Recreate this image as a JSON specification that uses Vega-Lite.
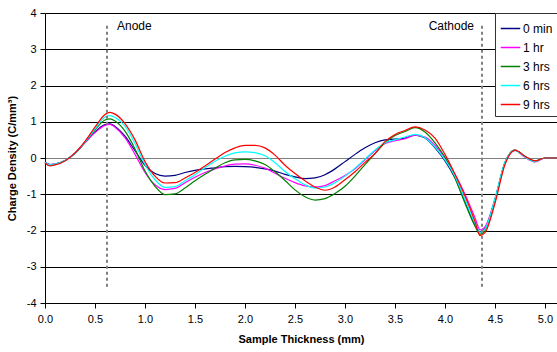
{
  "$schema": "https://vega.github.io/schema/vega-lite/v6.json",
  "width": 512,
  "height": 290,
  "autosize": {"type": "none"},
  "padding": {"left": 45, "top": 13, "right": 0, "bottom": 49},
  "background": "white",
  "config": {
    "view": {"stroke": null},
    "font": "Liberation Sans",
    "axis": {"labelFont": "Liberation Sans", "titleFont": "Liberation Sans", "labelFontSize": 11, "titleFontSize": 11, "titleFontWeight": "bold", "labelColor": "black", "titleColor": "black", "domainColor": "black", "tickColor": "black", "tickSize": 5}
  },
  "datasets": {
    "curves": [
      {"x":0,"s":"0 min","y":-0.12},{"x":0,"s":"1 hr","y":-0.12},{"x":0,"s":"3 hrs","y":-0.13},{"x":0,"s":"6 hrs","y":-0.12},{"x":0,"s":"9 hrs","y":-0.14},
      {"x":0.05,"s":"0 min","y":-0.18},{"x":0.05,"s":"1 hr","y":-0.18},{"x":0.05,"s":"3 hrs","y":-0.2},{"x":0.05,"s":"6 hrs","y":-0.19},{"x":0.05,"s":"9 hrs","y":-0.22},
      {"x":0.1,"s":"0 min","y":-0.17},{"x":0.1,"s":"1 hr","y":-0.17},{"x":0.1,"s":"3 hrs","y":-0.18},{"x":0.1,"s":"6 hrs","y":-0.17},{"x":0.1,"s":"9 hrs","y":-0.19},
      {"x":0.2,"s":"0 min","y":-0.07},{"x":0.2,"s":"1 hr","y":-0.07},{"x":0.2,"s":"3 hrs","y":-0.07},{"x":0.2,"s":"6 hrs","y":-0.07},{"x":0.2,"s":"9 hrs","y":-0.08},
      {"x":0.3,"s":"0 min","y":0.13},{"x":0.3,"s":"1 hr","y":0.13},{"x":0.3,"s":"3 hrs","y":0.13},{"x":0.3,"s":"6 hrs","y":0.13},{"x":0.3,"s":"9 hrs","y":0.14},
      {"x":0.4,"s":"0 min","y":0.43},{"x":0.4,"s":"1 hr","y":0.42},{"x":0.4,"s":"3 hrs","y":0.44},{"x":0.4,"s":"6 hrs","y":0.44},{"x":0.4,"s":"9 hrs","y":0.46},
      {"x":0.5,"s":"0 min","y":0.72},{"x":0.5,"s":"1 hr","y":0.7},{"x":0.5,"s":"3 hrs","y":0.78},{"x":0.5,"s":"6 hrs","y":0.8},{"x":0.5,"s":"9 hrs","y":0.85},
      {"x":0.6,"s":"0 min","y":0.92},{"x":0.6,"s":"1 hr","y":0.9},{"x":0.6,"s":"3 hrs","y":1.05},{"x":0.6,"s":"6 hrs","y":1.13},{"x":0.6,"s":"9 hrs","y":1.2},
      {"x":0.65,"s":"0 min","y":0.94},{"x":0.65,"s":"1 hr","y":0.93},{"x":0.65,"s":"3 hrs","y":1.08},{"x":0.65,"s":"6 hrs","y":1.17},{"x":0.65,"s":"9 hrs","y":1.26},
      {"x":0.7,"s":"0 min","y":0.87},{"x":0.7,"s":"1 hr","y":0.85},{"x":0.7,"s":"3 hrs","y":1.02},{"x":0.7,"s":"6 hrs","y":1.12},{"x":0.7,"s":"9 hrs","y":1.21},
      {"x":0.8,"s":"0 min","y":0.6},{"x":0.8,"s":"1 hr","y":0.56},{"x":0.8,"s":"3 hrs","y":0.74},{"x":0.8,"s":"6 hrs","y":0.88},{"x":0.8,"s":"9 hrs","y":0.95},
      {"x":0.9,"s":"0 min","y":0.2},{"x":0.9,"s":"1 hr","y":0.1},{"x":0.9,"s":"3 hrs","y":0.25},{"x":0.9,"s":"6 hrs","y":0.4},{"x":0.9,"s":"9 hrs","y":0.5},
      {"x":1.0,"s":"0 min","y":-0.2},{"x":1.0,"s":"1 hr","y":-0.4},{"x":1.0,"s":"3 hrs","y":-0.36},{"x":1.0,"s":"6 hrs","y":-0.18},{"x":1.0,"s":"9 hrs","y":-0.1},
      {"x":1.1,"s":"0 min","y":-0.43},{"x":1.1,"s":"1 hr","y":-0.74},{"x":1.1,"s":"3 hrs","y":-0.78},{"x":1.1,"s":"6 hrs","y":-0.6},{"x":1.1,"s":"9 hrs","y":-0.5},
      {"x":1.2,"s":"0 min","y":-0.5},{"x":1.2,"s":"1 hr","y":-0.87},{"x":1.2,"s":"3 hrs","y":-1.01},{"x":1.2,"s":"6 hrs","y":-0.81},{"x":1.2,"s":"9 hrs","y":-0.69},
      {"x":1.3,"s":"0 min","y":-0.48},{"x":1.3,"s":"1 hr","y":-0.84},{"x":1.3,"s":"3 hrs","y":-0.99},{"x":1.3,"s":"6 hrs","y":-0.79},{"x":1.3,"s":"9 hrs","y":-0.68},
      {"x":1.4,"s":"0 min","y":-0.4},{"x":1.4,"s":"1 hr","y":-0.68},{"x":1.4,"s":"3 hrs","y":-0.83},{"x":1.4,"s":"6 hrs","y":-0.63},{"x":1.4,"s":"9 hrs","y":-0.55},
      {"x":1.5,"s":"0 min","y":-0.34},{"x":1.5,"s":"1 hr","y":-0.53},{"x":1.5,"s":"3 hrs","y":-0.63},{"x":1.5,"s":"6 hrs","y":-0.46},{"x":1.5,"s":"9 hrs","y":-0.4},
      {"x":1.6,"s":"0 min","y":-0.3},{"x":1.6,"s":"1 hr","y":-0.4},{"x":1.6,"s":"3 hrs","y":-0.45},{"x":1.6,"s":"6 hrs","y":-0.27},{"x":1.6,"s":"9 hrs","y":-0.22},
      {"x":1.7,"s":"0 min","y":-0.27},{"x":1.7,"s":"1 hr","y":-0.3},{"x":1.7,"s":"3 hrs","y":-0.28},{"x":1.7,"s":"6 hrs","y":-0.09},{"x":1.7,"s":"9 hrs","y":-0.03},
      {"x":1.8,"s":"0 min","y":-0.24},{"x":1.8,"s":"1 hr","y":-0.22},{"x":1.8,"s":"3 hrs","y":-0.13},{"x":1.8,"s":"6 hrs","y":0.05},{"x":1.8,"s":"9 hrs","y":0.15},
      {"x":1.9,"s":"0 min","y":-0.23},{"x":1.9,"s":"1 hr","y":-0.17},{"x":1.9,"s":"3 hrs","y":-0.05},{"x":1.9,"s":"6 hrs","y":0.14},{"x":1.9,"s":"9 hrs","y":0.28},
      {"x":2.0,"s":"0 min","y":-0.24},{"x":2.0,"s":"1 hr","y":-0.16},{"x":2.0,"s":"3 hrs","y":-0.04},{"x":2.0,"s":"6 hrs","y":0.17},{"x":2.0,"s":"9 hrs","y":0.35},
      {"x":2.1,"s":"0 min","y":-0.26},{"x":2.1,"s":"1 hr","y":-0.2},{"x":2.1,"s":"3 hrs","y":-0.08},{"x":2.1,"s":"6 hrs","y":0.15},{"x":2.1,"s":"9 hrs","y":0.35},
      {"x":2.2,"s":"0 min","y":-0.3},{"x":2.2,"s":"1 hr","y":-0.28},{"x":2.2,"s":"3 hrs","y":-0.18},{"x":2.2,"s":"6 hrs","y":0.06},{"x":2.2,"s":"9 hrs","y":0.28},
      {"x":2.3,"s":"0 min","y":-0.36},{"x":2.3,"s":"1 hr","y":-0.42},{"x":2.3,"s":"3 hrs","y":-0.38},{"x":2.3,"s":"6 hrs","y":-0.13},{"x":2.3,"s":"9 hrs","y":0.08},
      {"x":2.4,"s":"0 min","y":-0.45},{"x":2.4,"s":"1 hr","y":-0.56},{"x":2.4,"s":"3 hrs","y":-0.62},{"x":2.4,"s":"6 hrs","y":-0.37},{"x":2.4,"s":"9 hrs","y":-0.2},
      {"x":2.5,"s":"0 min","y":-0.52},{"x":2.5,"s":"1 hr","y":-0.68},{"x":2.5,"s":"3 hrs","y":-0.88},{"x":2.5,"s":"6 hrs","y":-0.57},{"x":2.5,"s":"9 hrs","y":-0.43},
      {"x":2.6,"s":"0 min","y":-0.57},{"x":2.6,"s":"1 hr","y":-0.77},{"x":2.6,"s":"3 hrs","y":-1.07},{"x":2.6,"s":"6 hrs","y":-0.74},{"x":2.6,"s":"9 hrs","y":-0.63},
      {"x":2.7,"s":"0 min","y":-0.55},{"x":2.7,"s":"1 hr","y":-0.8},{"x":2.7,"s":"3 hrs","y":-1.16},{"x":2.7,"s":"6 hrs","y":-0.83},{"x":2.7,"s":"9 hrs","y":-0.8},
      {"x":2.8,"s":"0 min","y":-0.46},{"x":2.8,"s":"1 hr","y":-0.76},{"x":2.8,"s":"3 hrs","y":-1.12},{"x":2.8,"s":"6 hrs","y":-0.8},{"x":2.8,"s":"9 hrs","y":-0.89},
      {"x":2.9,"s":"0 min","y":-0.3},{"x":2.9,"s":"1 hr","y":-0.63},{"x":2.9,"s":"3 hrs","y":-0.98},{"x":2.9,"s":"6 hrs","y":-0.68},{"x":2.9,"s":"9 hrs","y":-0.8},
      {"x":3.0,"s":"0 min","y":-0.1},{"x":3.0,"s":"1 hr","y":-0.48},{"x":3.0,"s":"3 hrs","y":-0.78},{"x":3.0,"s":"6 hrs","y":-0.5},{"x":3.0,"s":"9 hrs","y":-0.6},
      {"x":3.1,"s":"0 min","y":0.1},{"x":3.1,"s":"1 hr","y":-0.3},{"x":3.1,"s":"3 hrs","y":-0.5},{"x":3.1,"s":"6 hrs","y":-0.28},{"x":3.1,"s":"9 hrs","y":-0.38},
      {"x":3.2,"s":"0 min","y":0.28},{"x":3.2,"s":"1 hr","y":-0.05},{"x":3.2,"s":"3 hrs","y":-0.18},{"x":3.2,"s":"6 hrs","y":-0.03},{"x":3.2,"s":"9 hrs","y":-0.12},
      {"x":3.3,"s":"0 min","y":0.42},{"x":3.3,"s":"1 hr","y":0.2},{"x":3.3,"s":"3 hrs","y":0.12},{"x":3.3,"s":"6 hrs","y":0.22},{"x":3.3,"s":"9 hrs","y":0.12},
      {"x":3.4,"s":"0 min","y":0.5},{"x":3.4,"s":"1 hr","y":0.4},{"x":3.4,"s":"3 hrs","y":0.42},{"x":3.4,"s":"6 hrs","y":0.42},{"x":3.4,"s":"9 hrs","y":0.45},
      {"x":3.5,"s":"0 min","y":0.52},{"x":3.5,"s":"1 hr","y":0.48},{"x":3.5,"s":"3 hrs","y":0.62},{"x":3.5,"s":"6 hrs","y":0.5},{"x":3.5,"s":"9 hrs","y":0.65},
      {"x":3.6,"s":"0 min","y":0.55},{"x":3.6,"s":"1 hr","y":0.53},{"x":3.6,"s":"3 hrs","y":0.73},{"x":3.6,"s":"6 hrs","y":0.58},{"x":3.6,"s":"9 hrs","y":0.76},
      {"x":3.7,"s":"0 min","y":0.63},{"x":3.7,"s":"1 hr","y":0.63},{"x":3.7,"s":"3 hrs","y":0.84},{"x":3.7,"s":"6 hrs","y":0.65},{"x":3.7,"s":"9 hrs","y":0.86},
      {"x":3.8,"s":"0 min","y":0.55},{"x":3.8,"s":"1 hr","y":0.58},{"x":3.8,"s":"3 hrs","y":0.72},{"x":3.8,"s":"6 hrs","y":0.56},{"x":3.8,"s":"9 hrs","y":0.77},
      {"x":3.9,"s":"0 min","y":0.28},{"x":3.9,"s":"1 hr","y":0.35},{"x":3.9,"s":"3 hrs","y":0.42},{"x":3.9,"s":"6 hrs","y":0.3},{"x":3.9,"s":"9 hrs","y":0.55},
      {"x":4.0,"s":"0 min","y":-0.08},{"x":4.0,"s":"1 hr","y":0.0},{"x":4.0,"s":"3 hrs","y":0.02},{"x":4.0,"s":"6 hrs","y":-0.05},{"x":4.0,"s":"9 hrs","y":0.1},
      {"x":4.1,"s":"0 min","y":-0.55},{"x":4.1,"s":"1 hr","y":-0.45},{"x":4.1,"s":"3 hrs","y":-0.55},{"x":4.1,"s":"6 hrs","y":-0.5},{"x":4.1,"s":"9 hrs","y":-0.45},
      {"x":4.2,"s":"0 min","y":-1.2},{"x":4.2,"s":"1 hr","y":-1.0},{"x":4.2,"s":"3 hrs","y":-1.25},{"x":4.2,"s":"6 hrs","y":-1.15},{"x":4.2,"s":"9 hrs","y":-1.05},
      {"x":4.3,"s":"0 min","y":-1.85},{"x":4.3,"s":"1 hr","y":-1.65},{"x":4.3,"s":"3 hrs","y":-1.88},{"x":4.3,"s":"6 hrs","y":-1.8},{"x":4.3,"s":"9 hrs","y":-1.75},
      {"x":4.35,"s":"0 min","y":-2.04},{"x":4.35,"s":"1 hr","y":-1.98},{"x":4.35,"s":"3 hrs","y":-2.1},{"x":4.35,"s":"6 hrs","y":-2.05},{"x":4.35,"s":"9 hrs","y":-2.14},
      {"x":4.4,"s":"0 min","y":-1.95},{"x":4.4,"s":"1 hr","y":-1.9},{"x":4.4,"s":"3 hrs","y":-2.0},{"x":4.4,"s":"6 hrs","y":-1.96},{"x":4.4,"s":"9 hrs","y":-2.06},
      {"x":4.5,"s":"0 min","y":-1.15},{"x":4.5,"s":"1 hr","y":-1.12},{"x":4.5,"s":"3 hrs","y":-1.15},{"x":4.5,"s":"6 hrs","y":-1.12},{"x":4.5,"s":"9 hrs","y":-1.25},
      {"x":4.6,"s":"0 min","y":-0.13},{"x":4.6,"s":"1 hr","y":-0.13},{"x":4.6,"s":"3 hrs","y":-0.12},{"x":4.6,"s":"6 hrs","y":-0.12},{"x":4.6,"s":"9 hrs","y":-0.18},
      {"x":4.7,"s":"0 min","y":0.21},{"x":4.7,"s":"1 hr","y":0.21},{"x":4.7,"s":"3 hrs","y":0.22},{"x":4.7,"s":"6 hrs","y":0.21},{"x":4.7,"s":"9 hrs","y":0.22},
      {"x":4.8,"s":"0 min","y":0.04},{"x":4.8,"s":"1 hr","y":0.02},{"x":4.8,"s":"3 hrs","y":0.04},{"x":4.8,"s":"6 hrs","y":0.03},{"x":4.8,"s":"9 hrs","y":0.05},
      {"x":4.9,"s":"0 min","y":-0.09},{"x":4.9,"s":"1 hr","y":-0.11},{"x":4.9,"s":"3 hrs","y":-0.08},{"x":4.9,"s":"6 hrs","y":-0.1},{"x":4.9,"s":"9 hrs","y":-0.08},
      {"x":5.0,"s":"0 min","y":0.0},{"x":5.0,"s":"1 hr","y":0.0},{"x":5.0,"s":"3 hrs","y":0.0},{"x":5.0,"s":"6 hrs","y":0.0},{"x":5.0,"s":"9 hrs","y":0.0},
      {"x":5.12,"s":"0 min","y":0.0},{"x":5.12,"s":"1 hr","y":0.0},{"x":5.12,"s":"3 hrs","y":0.0},{"x":5.12,"s":"6 hrs","y":0.0},{"x":5.12,"s":"9 hrs","y":0.0}
    ],
    "marks": [
      {"x": 0.62, "y": 3.65, "y2": -3.6},
      {"x": 4.37, "y": 3.65, "y2": -3.6}
    ],
    "leftlabels": [{"x": 0.72, "y": 3.65, "label": "Anode"}],
    "rightlabels": [{"x": 4.29, "y": 3.65, "label": "Cathode"}]
  },
  "encoding": {
    "x": {"field": "x", "type": "quantitative", "scale": {"domain": [0, 5.12], "nice": false, "zero": false},
          "axis": {"title": "Sample Thickness (mm)", "values": [0, 0.5, 1, 1.5, 2, 2.5, 3, 3.5, 4, 4.5, 5], "format": ".1f", "grid": false, "labelPadding": 5, "titlePadding": 9, "labelFlush": false}},
    "y": {"field": "y", "type": "quantitative", "scale": {"domain": [-4, 4], "nice": false},
          "axis": {"title": "Charge Density (C/mm³)", "values": [-4, -3, -2, -1, 0, 1, 2, 3, 4], "labelOverlap": false, "grid": true,
                   "labelExpr": "datum.value < 0 ? '-' + abs(datum.value) : '' + datum.value",
                   "gridColor": {"condition": {"test": "datum.value === 0", "value": "#808080"}, "value": "black"},
                   "gridOpacity": 1, "gridWidth": 1, "labelPadding": 4, "titlePadding": 9}}
  },
  "layer": [
    {
      "data": {"name": "curves"},
      "mark": {"type": "line", "strokeWidth": 1.2, "interpolate": "monotone"},
      "encoding": {
        "color": {"field": "s", "type": "nominal",
                  "scale": {"domain": ["0 min", "1 hr", "3 hrs", "6 hrs", "9 hrs"], "range": ["#000080", "#ff00ff", "#008000", "#00ffff", "#ff0000"]},
                  "legend": {"title": null, "orient": "none", "legendX": 450, "legendY": 0, "symbolType": "stroke", "symbolSize": 380, "symbolStrokeWidth": 1.5,
                             "labelFontSize": 12, "labelFont": "Liberation Sans", "labelColor": "black", "rowPadding": 2, "padding": 5,
                             "strokeColor": "#333333", "fillColor": "white", "labelOffset": 2}}
      }
    },
    {
      "data": {"name": "marks"},
      "mark": {"type": "rule", "color": "#808080", "strokeDash": [3, 3], "strokeWidth": 2},
      "encoding": {
        "y2": {"field": "y2"}
      }
    },
    {
      "data": {"name": "leftlabels"},
      "mark": {"type": "text", "fontSize": 12, "font": "Liberation Sans", "color": "black", "baseline": "middle", "align": "left"},
      "encoding": {
        "text": {"field": "label"}
      }
    },
    {
      "data": {"name": "rightlabels"},
      "mark": {"type": "text", "fontSize": 12, "font": "Liberation Sans", "color": "black", "baseline": "middle", "align": "right"},
      "encoding": {
        "text": {"field": "label"}
      }
    }
  ]
}
